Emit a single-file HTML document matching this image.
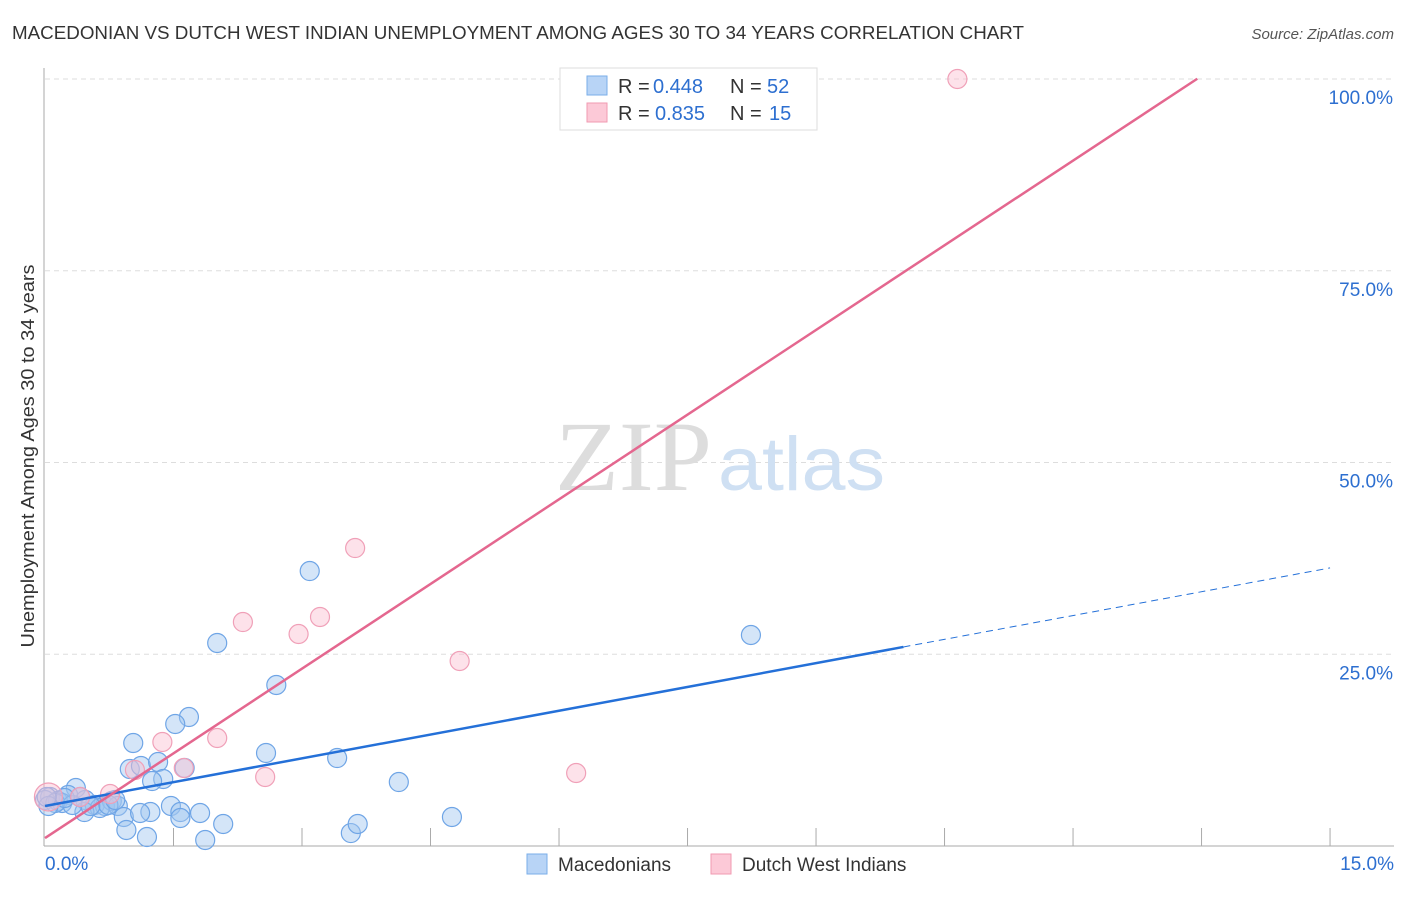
<!DOCTYPE html>
<html><head><meta charset="utf-8"><style>
body{margin:0;background:#fff;font-family:"Liberation Sans",sans-serif}
</style></head><body>
<svg width="1406" height="892" xmlns="http://www.w3.org/2000/svg" font-family="Liberation Sans, sans-serif">
<text x="12" y="39" font-size="18" fill="#333" textLength="1012" lengthAdjust="spacingAndGlyphs">MACEDONIAN VS DUTCH WEST INDIAN UNEMPLOYMENT AMONG AGES 30 TO 34 YEARS CORRELATION CHART</text>
<text x="1394" y="39" font-size="15" fill="#555" font-style="italic" text-anchor="end">Source: ZipAtlas.com</text>
<g id="grid"></g>
<text x="555" y="490" font-size="100" fill="#ddd" textLength="157" lengthAdjust="spacingAndGlyphs" font-family="Liberation Serif, serif">ZIP</text>
<text x="718" y="490" font-size="76" fill="#cfe0f3" textLength="167" lengthAdjust="spacingAndGlyphs">atlas</text>
<g id="marks"></g>
<text x="34" y="456" font-size="18" fill="#333" text-anchor="middle" textLength="383" lengthAdjust="spacingAndGlyphs" transform="rotate(-90 34 456)">Unemployment Among Ages 30 to 34 years</text>
<g>
<rect x="560" y="68" width="257" height="62" fill="#fff" stroke="#ddd"/>
<rect x="587" y="76" width="20" height="19" fill="#b8d4f6" stroke="#7aaee8"/>
<rect x="587" y="103" width="20" height="19" fill="#fcc9d7" stroke="#f09ab2"/>
<text x="618" y="93" font-size="20" fill="#333">R =</text>
<text x="653" y="93" font-size="20" fill="#2d6fd0">0.448</text>
<text x="730" y="93" font-size="20" fill="#333">N =</text>
<text x="767" y="93" font-size="20" fill="#2d6fd0">52</text>
<text x="618" y="120" font-size="20" fill="#333">R =</text>
<text x="655" y="120" font-size="20" fill="#2d6fd0">0.835</text>
<text x="730" y="120" font-size="20" fill="#333">N =</text>
<text x="769" y="120" font-size="20" fill="#2d6fd0">15</text>
</g>
<g>
<rect x="527" y="854" width="20" height="20" fill="#b8d4f6" stroke="#7aaee8"/>
<text x="558" y="871" font-size="19" fill="#333">Macedonians</text>
<rect x="711" y="854" width="20" height="20" fill="#fcc9d7" stroke="#f09ab2"/>
<text x="742" y="871" font-size="19" fill="#333">Dutch West Indians</text>
</g>
</svg>
<script>
const blueX=[3.09,2.01,2.70,1.68,1.52,1.03,2.58,3.41,0.99,1.12,1.32,1.63,1.38,1.25,4.13,8.24,0.36,0.27,0.06,0.15,0.20,0.47,0.58,0.70,0.78,0.85,0.64,0.46,0.92,1.23,1.47,1.58,1.81,2.08,0.95,1.19,1.87,3.57,3.65,4.75,1.58,1.11,0,0.12,0.32,0.53,0.74,0.23,0.04,0.82,0.41,0.02];
const blueY=[35.85,26.47,20.99,16.82,15.91,13.43,12.13,11.47,10.04,10.43,10.95,10.17,8.74,8.47,8.34,27.51,7.56,6.65,6.39,5.87,5.61,6.0,5.35,5.22,5.87,5.22,4.95,4.43,3.78,4.43,5.22,4.43,4.30,2.87,2.09,1.17,0.78,1.69,2.87,3.78,3.65,4.30,6.0,5.61,5.35,5.22,5.35,6.26,5.22,6.0,6.39,6.39];
const pinkX=[10.65,3.62,3.21,2.96,2.31,4.84,2.01,1.37,1.62,2.57,6.20,0.76,0.41,0.04,1.05];
const pinkY=[100,38.85,29.86,27.64,29.2,24.12,14.08,13.56,10.17,9.0,9.52,6.78,6.39,6.39,9.91];
const blueLine={intercept:5.22,slope:2.069,solidEnd:10.02,end:15};
const pinkLine={intercept:1.04,slope:7.36,end:13.45};
const yTicks=[25,50,75,100];
const yTickLabels=["25.0%","50.0%","75.0%","100.0%"];
const xTicks=[0,1.5,3,4.5,6,7.5,9,10.5,12,13.5,15];
const NS="http://www.w3.org/2000/svg";
const sx=v=>45+v*85.67, sy=v=>846-v*7.67;
function mk(t,a,p){const e=document.createElementNS(NS,t);for(const k in a)e.setAttribute(k,a[k]);(p||document.getElementById('marks')).appendChild(e);return e;}
const g=document.getElementById('grid');
yTicks.forEach((t,i)=>{
 const l=mk('line',{x1:45,x2:1394,y1:sy(t),y2:sy(t),stroke:'#ddd','stroke-dasharray':'5,4'},g);
 
 
 const tx=mk('text',{x:1393,y:sy(t)+25,'font-size':19,fill:'#2d6fd0','text-anchor':'end'},g);
 tx.textContent=yTickLabels[i];
 
 
});
const ax=mk('line',{x1:44,x2:44,y1:68,y2:846,stroke:'#aaa'},g);


const bx=mk('line',{x1:44,x2:1394,y1:846,y2:846,stroke:'#aaa'},g);


xTicks.forEach(t=>{if(t===0)return;
 const l=mk('line',{x1:sx(t),x2:sx(t),y1:828,y2:846,stroke:'#aaa'},g);
 
 
});
const x0=mk('text',{x:45,y:870,'font-size':19,fill:'#2d6fd0'},g);x0.textContent='0.0%';


const x1=mk('text',{x:1394,y:870,'font-size':19,fill:'#2d6fd0','text-anchor':'end'},g);x1.textContent='15.0%';


blueX.forEach((x,i)=>{const c=mk('circle',{cx:sx(x),cy:sy(blueY[i]),r:9.5,fill:'rgba(160,197,240,0.45)',stroke:'#6fa5e6','stroke-width':1.2});
 
 });
pinkX.forEach((x,i)=>{const c=mk('circle',{cx:sx(x),cy:sy(pinkY[i]),r:i===13?14:9.5,fill:'rgba(250,190,208,0.45)',stroke:'#f0a0b8','stroke-width':1.2});
 
 });
const bl=mk('line',{x1:sx(0),y1:sy(blueLine.intercept),x2:sx(blueLine.solidEnd),y2:sy(blueLine.intercept+blueLine.slope*blueLine.solidEnd),stroke:'#2470d8','stroke-width':2.5});


const bd=mk('line',{x1:sx(blueLine.solidEnd),y1:sy(blueLine.intercept+blueLine.slope*blueLine.solidEnd),x2:sx(blueLine.end),y2:sy(blueLine.intercept+blueLine.slope*blueLine.end),stroke:'#2470d8','stroke-width':1,'stroke-dasharray':'7,5'});


const pl=mk('line',{x1:sx(0),y1:sy(pinkLine.intercept),x2:sx(pinkLine.end),y2:sy(pinkLine.intercept+pinkLine.slope*pinkLine.end),stroke:'#e4678f','stroke-width':2.5});


</script>
</body></html>
